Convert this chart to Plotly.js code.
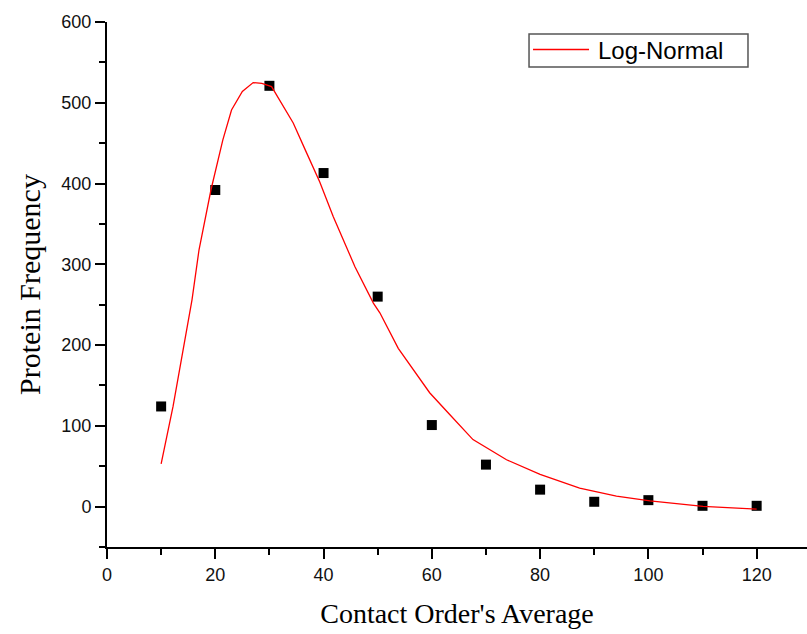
<!DOCTYPE html>
<html>
<head>
<meta charset="utf-8">
<script src="https://cdn.plot.ly/plotly-3.0.1.min.js"></script>
<style>html,body{margin:0;padding:0;background:#fff;}#chart{width:807px;height:634px;}</style>
</head>
<body>
<div id="chart"></div>
<script>
// Observed data (squares)
const obsX = [10, 20, 30, 40, 50, 60, 70, 80, 90, 100, 110, 120];
const obsY = [124, 392, 521, 413, 260, 101, 52, 21, 6, 8, 1, 1];

// Log-Normal fit curve
const fitX = [10, 12.2, 15.7, 17, 19.2, 21.4, 23, 25, 27, 28.6, 30.4, 32.6, 34.4, 36.6, 39.3, 41.8, 43, 45.8, 49.2, 50.4, 53.8, 59.6, 63.3, 67.6, 73.8, 80, 87.3, 94.1, 100.3, 110.1, 120];
const fitY = [53, 124, 256, 318, 392, 454, 491, 514, 525, 524, 520, 495, 475, 442, 402, 359, 341, 297, 252, 240, 196, 141, 114, 83, 58, 40, 23, 13, 7, 0.4, -3];

const xTitle = "Contact Order's Average";
const yTitle = "Protein Frequency";
const legendName = "Log-Normal";

const lineColor = '#ff0000';

const traces = [
  {x: obsX, y: obsY, mode: 'markers', type: 'scatter', showlegend: false,
   marker: {symbol: 'square', size: 10, color: '#000'}},
  {x: fitX, y: fitY, mode: 'lines', type: 'scatter', name: legendName, showlegend: false,
   line: {color: lineColor, width: 1.3}}
];

const tickFont = {family: 'Liberation Sans, Arial, sans-serif', size: 18, color: '#111'};
const titleFont = {family: 'Liberation Serif, Times New Roman, serif', size: 28, color: '#000'};

const layout = {
  width: 807, height: 634,
  margin: {l: 107, r: 0, t: 22, b: 87},
  paper_bgcolor: '#fff', plot_bgcolor: '#fff',
  showlegend: false,
  xaxis: {
    range: [0, 129.3], showgrid: false, zeroline: false,
    showline: true, linecolor: '#000', linewidth: 2,
    ticks: 'outside', ticklen: 10, tickwidth: 2, tickcolor: '#000',
    tick0: 0, dtick: 20, tickfont: tickFont,
    minor: {dtick: 10, ticks: 'outside', ticklen: 6, tickwidth: 2, tickcolor: '#000', showgrid: false},
    title: {text: xTitle, font: titleFont, standoff: 20}
  },
  yaxis: {
    range: [-50, 600], showgrid: false, zeroline: false,
    showline: true, linecolor: '#000', linewidth: 2,
    ticks: 'outside', ticklen: 10, tickwidth: 2, tickcolor: '#000',
    tick0: 0, dtick: 100, tickfont: tickFont,
    minor: {dtick: 50, ticks: 'outside', ticklen: 6, tickwidth: 2, tickcolor: '#000', showgrid: false},
    title: {text: yTitle, font: Object.assign({}, titleFont, {size: 30}), standoff: 12}
  },
  // Legend box drawn as decoration
  shapes: [
    {type: 'rect', xref: 'paper', yref: 'paper', x0: 0.6029, x1: 0.9157, y0: 0.9143, y1: 0.9771,
     line: {color: '#555', width: 1.5}, fillcolor: '#fff'},
    {type: 'line', xref: 'paper', yref: 'paper', x0: 0.6086, x1: 0.6886, y0: 0.9476, y1: 0.9476,
     line: {color: lineColor, width: 1.3}}
  ],
  annotations: [
    {xref: 'paper', yref: 'paper', x: 0.6986, y: 0.9462, xanchor: 'left', yanchor: 'middle',
     showarrow: false, text: legendName,
     font: {family: 'Liberation Sans, Arial, sans-serif', size: 24, color: '#000'}}
  ]
};

Plotly.newPlot('chart', traces, layout, {displayModeBar: false, staticPlot: true});
</script>
</body>
</html>
